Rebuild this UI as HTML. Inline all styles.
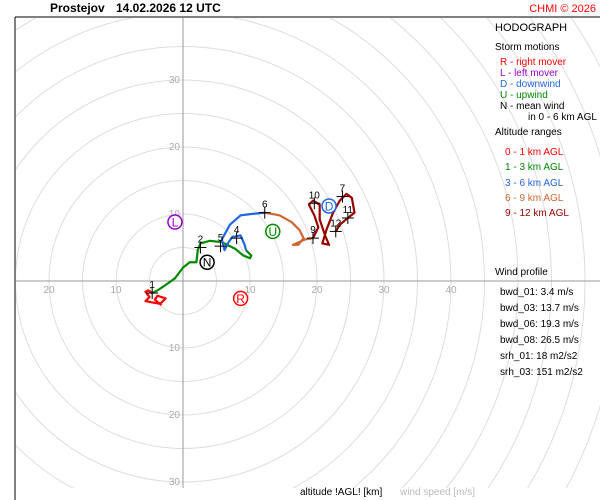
<!DOCTYPE html>
<html><head><meta charset="utf-8"><style>
html,body{margin:0;background:#fff;font-family:"Liberation Sans",sans-serif;width:600px;height:500px;overflow:hidden}
svg{display:block}
</style></head><body>
<svg id="c" width="600" height="500" xmlns="http://www.w3.org/2000/svg">
<text x="50" y="12" font-size="12" font-weight="bold">Prostejov</text>
<text x="116" y="12" font-size="12" font-weight="bold">14.02.2026 12 UTC</text>
<text x="596" y="12" font-size="11" fill="#ff0000" text-anchor="end">CHMI © 2026</text>
<line x1="15" y1="17" x2="600" y2="17" stroke="#000"/>
<line x1="15" y1="17" x2="15" y2="500" stroke="#000"/>
<defs><clipPath id="clp"><rect x="16" y="18" width="584" height="470"/></clipPath></defs>
<g id="grid" clip-path="url(#clp)"></g>
<g id="series" clip-path="url(#clp)"></g>
<g id="marks"></g>
<g font-size="10">
<text x="495" y="31" font-size="11">HODOGRAPH</text>
<text x="495" y="50">Storm motions</text>
<text x="500" y="65" fill="#ff0000">R - right mover</text>
<text x="500" y="76" fill="#9900cc">L - left mover</text>
<text x="500" y="87" fill="#2266dd">D - downwind</text>
<text x="500" y="98" fill="#008800">U - upwind</text>
<text x="500" y="109">N - mean wind</text>
<text x="528" y="120">in 0 - 6 km AGL</text>
<text x="495" y="135">Altitude ranges</text>
<text x="505" y="155" fill="#ff0000">0 - 1 km AGL</text>
<text x="505" y="170" fill="#008800">1 - 3 km AGL</text>
<text x="505" y="186" fill="#2266dd">3 - 6 km AGL</text>
<text x="505" y="201" fill="#cc6633">6 - 9 km AGL</text>
<text x="505" y="216" fill="#990000">9 - 12 km AGL</text>
<text x="495" y="275">Wind profile</text>
<text x="500" y="295">bwd_01: 3.4 m/s</text>
<text x="500" y="311">bwd_03: 13.7 m/s</text>
<text x="500" y="327">bwd_06: 19.3 m/s</text>
<text x="500" y="343">bwd_08: 26.5 m/s</text>
<text x="500" y="359">srh_01: 18 m2/s2</text>
<text x="500" y="375">srh_03: 151 m2/s2</text>
</g>
<text x="300" y="495" font-size="10">altitude !AGL! [km]</text>
<text x="400" y="495" font-size="10" fill="#bbb">wind speed [m/s]</text>
</svg>
<script>
const ringSpeeds=[5,10,15,20,25,30,35,40,45,50,55,60,65,70];
const xTickLabels=[-20,-10,10,20,30,40];
const yTickLabels=[30,20,10,-10,-20,-30];
const red01=[[-4.6,-1.8],[-5.2,-1.4],[-5.6,-1.6],[-5.0,-2.4],[-5.6,-3.0],[-4.6,-3.2],[-3.4,-3.4],[-2.6,-2.6],[-3.8,-2.2],[-4.2,-2.8],[-3.2,-3.6]];
const green13=[[-4.6,-1.8],[-3.8,-1.4],[-2.6,-0.6],[-1.2,0.4],[0,2.0],[1.0,2.8],[2.0,2.8],[2.2,4.6],[2.6,5.6],[4.0,6.0],[5.8,5.8],[7.8,4.8],[9.0,3.8],[10.0,3.4],[10.2,3.8],[9.4,4.6]];
const blue36=[[9.4,4.6],[9.2,5.4],[8.6,6.8],[7.4,6.6],[6.8,5.8],[6.2,4.6],[5.8,6.2],[7.0,8.4],[8.6,9.8],[10.2,10.0],[12.2,10.2]];
const orange69=[[12.2,10.2],[14.4,9.8],[16.2,8.8],[17.4,7.6],[18.0,6.4],[17.2,5.4],[16.4,5.4],[18.2,6.2],[19.4,6.4]];
const darkred912=[[19.4,6.4],[20.2,8.0],[19.6,9.8],[18.8,11.4],[19.4,12.0],[20.4,11.4],[20.4,9.2],[21.2,6.8],[21.8,5.4],[20.8,5.6],[21.4,7.6],[22.4,10.2],[23.4,12.0],[24.4,13.0],[25.2,12.4],[25.6,10.2],[24.6,9.4],[23.4,8.4],[22.8,7.4]];
const altLabels=["1","2","4","5","6","9","10","11","12","7"];
const altPoints=[[-4.6,-1.8],[2.6,5.0],[8.0,6.4],[5.6,5.2],[12.2,10.2],[19.4,6.4],[19.6,11.6],[24.6,9.4],[22.8,7.4],[23.8,12.6]];
const stormLabels=["R","L","D","U","N"];
const stormPoints=[[8.6,-2.6],[-1.2,8.8],[21.8,11.2],[13.4,7.4],[3.6,2.8]];
const stormColors=["#ff0000","#9900cc","#2266dd","#008800","#000000"];

const NS="http://www.w3.org/2000/svg";
const CX=183,CY=281,K=6.7;
const sx=u=>CX+u*K, sy=v=>CY-v*K;
function mk(t,a,p){const e=document.createElementNS(NS,t);for(const k in a)e.setAttribute(k,a[k]);p.appendChild(e);return e;}
const grid=document.getElementById('grid'),ser=document.getElementById('series'),marks=document.getElementById('marks');
ringSpeeds.forEach(s=>{const c=mk('circle',{cx:sx(0),cy:sy(0),r:s*K,fill:'none',stroke:'#ddd','stroke-width':1},grid);

});
const ax=mk('line',{x1:15,y1:sy(0),x2:600,y2:sy(0),stroke:'#999'},grid);


const ay=mk('line',{x1:sx(0),y1:17,x2:sx(0),y2:500,stroke:'#999'},grid);


xTickLabels.forEach(v=>{const t=mk('text',{x:sx(v),y:sy(0)+12,'font-size':10,fill:'#aaa','text-anchor':'middle'},grid);t.textContent=Math.abs(v);

});
yTickLabels.forEach(v=>{const t=mk('text',{x:sx(0)-3,y:sy(v)+3,'font-size':10,fill:'#aaa','text-anchor':'end'},grid);t.textContent=Math.abs(v);

});
[[red01,'#ff0000','0-1km'],[green13,'#008800','1-3km'],[blue36,'#2266dd','3-6km'],[orange69,'#cc6633','6-9km'],[darkred912,'#990000','9-12km']].forEach(([d,c,n])=>{
const p=mk('polyline',{points:d.map(q=>sx(q[0])+','+sy(q[1])).join(' '),fill:'none',stroke:c,'stroke-width':2.2,'stroke-linejoin':'round'},ser);

});
altPoints.forEach((q,i)=>{const x=sx(q[0]),y=sy(q[1]);
const g=mk('g',{},marks);


mk('line',{x1:x-6,y1:y,x2:x+6,y2:y,stroke:'#000'},g);mk('line',{x1:x,y1:y-6,x2:x,y2:y+6,stroke:'#000'},g);
const t=mk('text',{x:x,y:y-5,'font-size':10,'text-anchor':'middle'},g);t.textContent=altLabels[i];});
stormPoints.forEach((q,i)=>{const x=sx(q[0]),y=sy(q[1]);
const g=mk('g',{},marks);


mk('circle',{cx:x,cy:y,r:7,fill:'#fff',stroke:stormColors[i],'stroke-width':1.5},g);
const t=mk('text',{x:x,y:y+4.5,'font-size':12,'text-anchor':'middle',fill:stormColors[i]},g);t.textContent=stormLabels[i];});
</script>
</body></html>
